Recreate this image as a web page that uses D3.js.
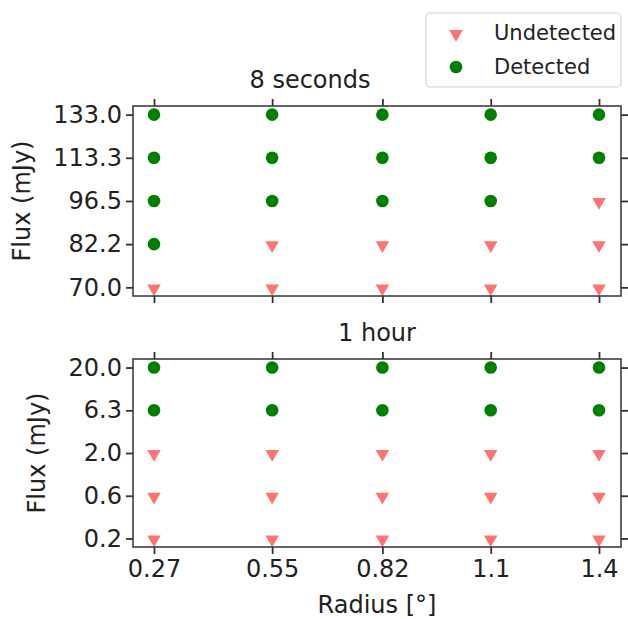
<!DOCTYPE html>
<html>
<head>
<meta charset="utf-8">
<script src="https://cdn.jsdelivr.net/npm/d3@7"></script>
<style>
  body { margin: 0; background: #fff; }
  text { font-family: "DejaVu Sans", sans-serif; fill: #222; }
</style>
</head>
<body>
<svg id="chart" width="628" height="619"></svg>
<script>
// Values
const radius = [0.27, 0.57, 0.85, 1.125, 1.4];
const radiusLabels = ["0.27", "0.55", "0.82", "1.1", "1.4"];
const flux8s = [70.0, 82.2, 96.5, 113.3, 133.0];
const flux1h = [0.2, 0.632, 2.0, 6.32, 20.0];
// 1 = detected, 0 = undetected; rows follow flux order, columns follow radius
const detected8s = [
  [0, 0, 0, 0, 0],
  [1, 0, 0, 0, 0],
  [1, 1, 1, 1, 0],
  [1, 1, 1, 1, 1],
  [1, 1, 1, 1, 1]
];
const detected1h = [
  [0, 0, 0, 0, 0],
  [0, 0, 0, 0, 0],
  [0, 0, 0, 0, 0],
  [1, 1, 1, 1, 1],
  [1, 1, 1, 1, 1]
];
const panelTitles = ["8 seconds", "1 hour"];
const legendLabels = ["Undetected", "Detected"];

const left = 133, right = 621;
const fontSize = 24;
const triColor = "#ff0000", dotColor = "#008000";
const svg = d3.select("#chart");

const x = d3.scaleLinear().domain(d3.extent(radius)).range([left + 21, right - 22]);

const panels = [
  { top: 106, bottom: 296, flux: flux8s, det: detected8s, title: panelTitles[0], titleX: 310, labelX: 22, showX: false },
  { top: 359, bottom: 547, flux: flux1h, det: detected1h, title: panelTitles[1], titleX: 377, labelX: 37, showX: true }
];

const triangle = d3.symbol().type(d3.symbolTriangle).size(80);

function styleAxis(g) {
  g.select(".domain").remove();
  g.selectAll(".tick line").attr("stroke", "#333").attr("stroke-width", 1.8);
  g.selectAll(".tick text").style("font-size", fontSize + "px").attr("fill", "#222");
}

panels.forEach(p => {
  const pad = (p.bottom - p.top) * 0.05 / 1.1;
  const y = d3.scaleLog().domain(d3.extent(p.flux)).range([p.bottom - pad, p.top + pad]);

  const g = svg.append("g");

  // points
  p.flux.forEach((f, i) => {
    radius.forEach((r, j) => {
      if (p.det[i][j]) {
        g.append("circle")
          .attr("cx", x(r)).attr("cy", y(f)).attr("r", 6.3)
          .attr("fill", dotColor);
      } else {
        g.append("path")
          .attr("d", triangle())
          .attr("transform", "translate(" + x(r) + "," + (y(f) + 1) + ") rotate(180)")
          .attr("fill", triColor).attr("fill-opacity", 0.55);
      }
    });
  });

  // frame
  g.append("rect")
    .attr("x", left).attr("y", p.top)
    .attr("width", right - left).attr("height", p.bottom - p.top)
    .attr("fill", "none").attr("stroke", "#333").attr("stroke-width", 1.5);

  // axes on all four sides
  g.append("g").attr("transform", "translate(" + left + ",0)")
    .call(d3.axisLeft(y).tickValues(p.flux).tickFormat(d3.format(".1f")).tickSize(7).tickPadding(4))
    .call(styleAxis);
  g.append("g").attr("transform", "translate(" + right + ",0)")
    .call(d3.axisRight(y).tickValues(p.flux).tickFormat("").tickSize(7))
    .call(styleAxis);
  g.append("g").attr("transform", "translate(0," + p.top + ")")
    .call(d3.axisTop(x).tickValues(radius).tickFormat("").tickSize(7))
    .call(styleAxis);
  g.append("g").attr("transform", "translate(0," + p.bottom + ")")
    .call(d3.axisBottom(x).tickValues(radius)
      .tickFormat((d, i) => p.showX ? radiusLabels[i] : "").tickSize(7).tickPadding(6))
    .call(styleAxis);

  g.append("text")
    .attr("x", p.titleX).attr("y", p.top - 18)
    .attr("text-anchor", "middle")
    .style("font-size", fontSize + "px")
    .text(p.title);

  g.append("text")
    .attr("transform", "translate(" + p.labelX + "," + ((p.top + p.bottom) / 2) + ") rotate(-90)")
    .attr("text-anchor", "middle")
    .attr("dominant-baseline", "central")
    .style("font-size", fontSize + "px")
    .text("Flux (mJy)");
});

svg.append("text")
  .attr("x", (left + right) / 2).attr("y", 613)
  .attr("text-anchor", "middle")
  .style("font-size", fontSize + "px")
  .text("Radius [°]");

// legend
const legend = svg.append("g");
legend.append("rect")
  .attr("x", 426).attr("y", 13).attr("width", 195).attr("height", 74)
  .attr("rx", 4).attr("fill", "#fff").attr("fill-opacity", 0.8)
  .attr("stroke", "#d0d0d0").attr("stroke-width", 1.2);
legendLabels.forEach((label, i) => {
  const ly = 33 + i * 34;
  if (i === 0) {
    legend.append("path").attr("d", triangle())
      .attr("transform", "translate(456," + (ly + 1) + ") rotate(180)")
      .attr("fill", triColor).attr("fill-opacity", 0.55);
  } else {
    legend.append("circle").attr("cx", 456).attr("cy", ly).attr("r", 6.3).attr("fill", dotColor);
  }
  legend.append("text")
    .attr("x", 494).attr("y", ly)
    .attr("dominant-baseline", "central")
    .style("font-size", "21px")
    .text(label);
});
</script>
</body>
</html>
